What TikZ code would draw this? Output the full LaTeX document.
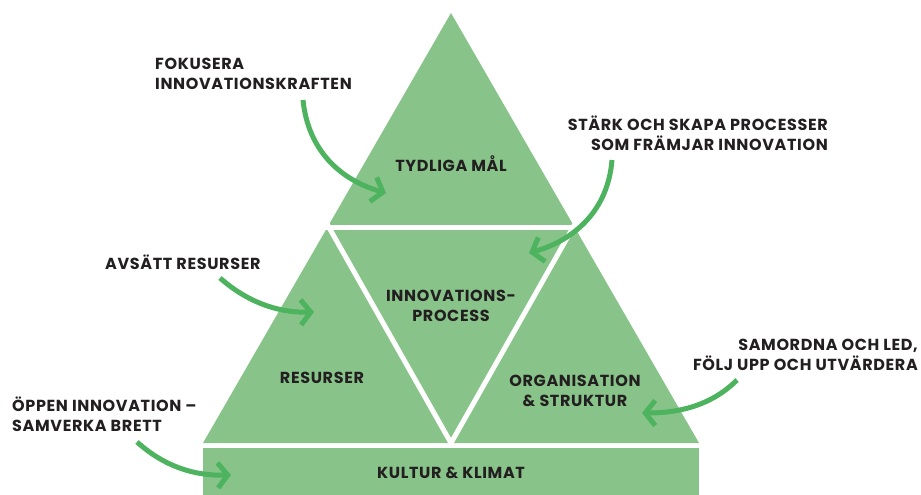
\documentclass[tikz,border=0pt]{standalone}
\usepackage{fontspec}
\setmainfont{Poppins}[LetterSpace=4]
\usetikzlibrary{arrows.meta,calc}
\definecolor{pgreen}{HTML}{88C48A}
\definecolor{agreen}{HTML}{4DB35E}
\definecolor{tdark}{HTML}{231F20}
\tikzset{
  lbl/.style={font=\bfseries\fontsize{16}{20}\selectfont, text=tdark, inner sep=0pt},
  arr/.style={draw=agreen, line width=5pt, -{Straight Barb[length=10pt,width=25pt]}},
  gap/.style={draw=white, line width=5pt}
}
\begin{document}
\begin{tikzpicture}[x=1pt,y=-1pt]
\useasboundingbox (0,0) rectangle (921,495);
% pyramid
\coordinate (apex) at (451,13);
\coordinate (bl) at (203,443);
\coordinate (br) at (699,443);
\fill[pgreen] (apex) -- (bl) -- (br) -- cycle;
\fill[pgreen] (203,448) rectangle (699,495);
\coordinate (tl) at (329,227.5);
\coordinate (tr) at (573,227.5);
\coordinate (vb) at (451,443);
\draw[gap] (150,227.5) -- (750,227.5);
\draw[gap] ($(tl)!-0.05!(vb)$) -- (vb) -- ($(tr)!-0.05!(vb)$);
% labels inside
\node[lbl] (mal) at (451,164) {TYDLIGA MÅL};
\node[lbl, align=center] (proc) at (451,306) {INNOVATIONS-\\PROCESS};
\node[lbl] (res) at (322,378) {RESURSER};
\node[lbl, align=center] (org) at (575,391) {ORGANISATION\\\& STRUKTUR};
\node[lbl] (kult) at (451,473) {KULTUR \& KLIMAT};
% side labels
\node[lbl, align=left, anchor=west] (fok) at (155,74) {FOKUSERA\\INNOVATIONSKRAFTEN};
\node[lbl, align=right, anchor=east] (stark) at (828,133) {STÄRK OCH SKAPA PROCESSER\\SOM FRÄMJAR INNOVATION};
\node[lbl, anchor=west] (avs) at (105,262) {AVSÄTT RESURSER};
\node[lbl, align=right, anchor=east] (sam) at (918,355) {SAMORDNA OCH LED,\\FÖLJ UPP OCH UTVÄRDERA};
\node[lbl, align=left, anchor=west] (opp) at (12,414) {ÖPPEN INNOVATION –\\SAMVERKA BRETT};
% arrows
\coordinate (a1s) at (303,100); \coordinate (a1e) at (386,193);
\coordinate (a2s) at (612,160); \coordinate (a2e) at (529,253);
\coordinate (a3s) at (220,278); \coordinate (a3e) at (314,312);
\coordinate (a4s) at (737,380); \coordinate (a4e) at (642,413);
\coordinate (a5s) at (137,442); \coordinate (a5e) at (231,475);
\draw[arr] (a1s) .. controls (308,150) and (340,180) .. (a1e);
\draw[arr] (a2s) .. controls (608,210) and (575,240) .. (a2e);
\draw[arr] (a3s) .. controls (245,300) and (275,313) .. (a3e);
\draw[arr] (a4s) .. controls (712,405) and (680,413) .. (a4e);
\draw[arr] (a5s) .. controls (165,467) and (195,476) .. (a5e);
\end{tikzpicture}
\end{document}
